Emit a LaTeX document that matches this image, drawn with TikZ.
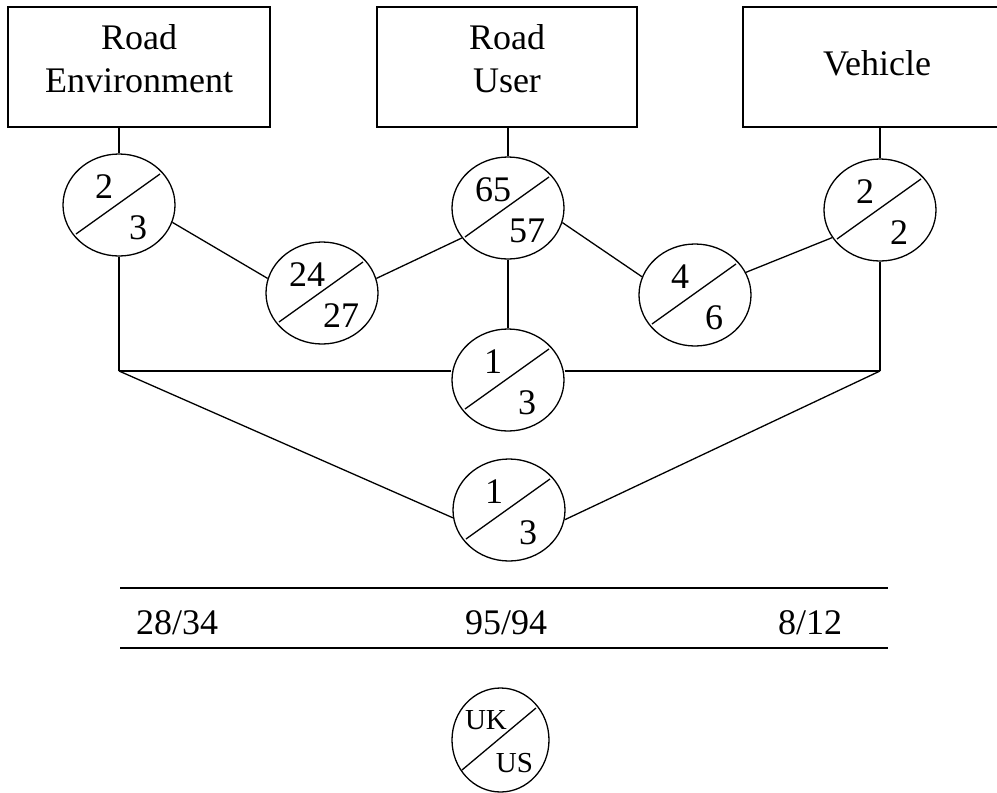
\documentclass[tikz,border=0pt]{standalone}
\usepackage{fontspec}
\setmainfont{Liberation Serif}
\usetikzlibrary{shapes.geometric,calc}
\tikzset{
  box/.style={draw, rectangle, inner sep=0pt, minimum height=120pt},
  ring/.style={draw, ellipse, inner sep=0pt, minimum width=112pt, minimum height=102pt},
  smallring/.style={draw, ellipse, inner sep=0pt, minimum width=97pt, minimum height=104pt},
  lbl/.style={font=\fontsize{36}{43}\selectfont, inner sep=0pt, align=center},
  num/.style={font=\fontsize{36}{43}\selectfont, inner sep=0pt},
  smallnum/.style={font=\fontsize{29}{35}\selectfont, inner sep=0pt},
}
\newcommand\ringnode[5]{%
  \node[ring] (#1) at (#2,#3) {};
  \node[num] (#1-t) at ($(#1.center)+(-15,-18)$) {#4};
  \node[num] (#1-b) at ($(#1.center)+(19,23)$) {#5};
  \draw ($(#1.center)+(-43,29)$) -- ($(#1.center)+(41,-31)$);
}
\begin{document}
\begin{tikzpicture}[x=1pt, y=-1pt, line width=1.3pt]
\useasboundingbox (0,0) rectangle (997,793);
% boxes
\node[box, minimum width=262pt] (re) at (139,67) {};
\node[lbl] (re-t) at (139,59) {Road\\Environment};
\node[box, minimum width=260pt] (ru) at (507,67) {};
\node[lbl] (ru-t) at (507,59) {Road\\User};
\node[box, minimum width=268pt] (ve) at (877,67) {};
\node[lbl] (ve-t) at (877,63) {Vehicle};
% circles
\ringnode{c1}{119}{205}{2}{3}
\ringnode{c2}{508}{208}{65}{57}
\ringnode{c3}{880}{210}{2}{2}
\ringnode{c4}{322}{293}{24}{27}
\ringnode{c5}{695}{295}{4}{6}
\ringnode{c6}{508}{380}{1}{3}
\ringnode{c7}{509}{510}{1}{3}
% junctions
\coordinate (jl) at (119,371);
\coordinate (jr) at (880,371);
% connectors
\draw (re.south -| c1.north) -- (c1.north);
\draw (ru.south -| c2.north) -- (c2.north);
\draw (ve.south -| c3.north) -- (c3.north);
\draw (c1.-18) -- (c4.165);
\draw (c4.15) -- (c2.213);
\draw (c2.-15) -- (c5.161);
\draw (c5.24) -- (c3.210);
\draw (c2.south) -- (c6.north);
\draw (c1.south) -- (jl);
\draw (c3.south) -- (jr);
\draw (jl) -- (c6.west |- jl);
\draw (c6.east |- jr) -- (jr);
\draw (jl) -- (c7.188);
\draw (jr) -- (c7.-10);
% totals
\coordinate (ta) at (120,588);
\coordinate (tb) at (888,588);
\coordinate (ba) at (120,648);
\coordinate (bb) at (888,648);
\draw (ta) -- (tb);
\draw (ba) -- (bb);
\node[num] (t1) at (177,623) {28/34};
\node[num] (t2) at (506,623) {95/94};
\node[num] (t3) at (810,623) {8/12};
% legend
\node[smallring] (uk) at (500.5,740) {};
\node[smallnum] (uk-t) at ($(uk.center)+(-14.5,-20)$) {UK};
\node[smallnum] (uk-b) at ($(uk.center)+(14,23)$) {US};
\draw ($(uk.center)+(-38.5,30)$) -- ($(uk.center)+(35.5,-32)$);
\end{tikzpicture}
\end{document}
